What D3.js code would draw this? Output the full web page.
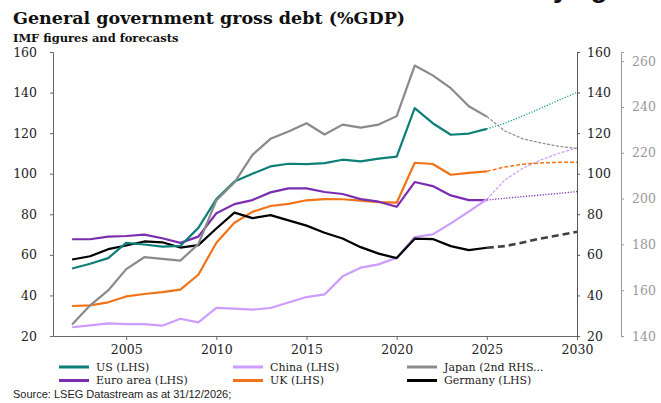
<!DOCTYPE html>
<html>
<head>
<meta charset="utf-8">
<script src="https://cdn.jsdelivr.net/npm/d3@7"></script>
<style>
  html, body { margin: 0; padding: 0; background: #fff; }
  svg { display: block; }
</style>
</head>
<body>
<svg id="chart" width="661" height="403"></svg>
<script>
// Outturn years and IMF forecast years
const years = d3.range(2002, 2026);
const forecastYears = d3.range(2025, 2031);

// General government gross debt, % of GDP (outturn 2002-2025)
const usDebt      = [53.3,55.6,58.4,65.9,65.1,64.1,64.4,73.3,87.5,96.2,100.0,103.6,104.9,104.7,105.2,106.9,106.1,107.4,108.4,132.3,124.9,119.2,119.8,122.1];
const chinaDebt   = [24.3,25.2,26.2,25.9,25.9,25.1,28.5,26.7,33.9,33.5,33.0,33.8,36.5,39.2,40.5,49.4,53.7,55.3,58.6,68.8,70.1,75.5,81.3,87.4];
const japanDebt   = [145.0,153.4,159.9,169.2,174.4,173.7,172.9,180.1,199.2,207.0,219.1,226.1,229.3,232.9,228.0,232.3,231.0,232.3,236.0,258.1,253.8,248.2,240.3,235.8];
const euroDebt    = [67.7,67.7,69.0,69.3,70.0,68.2,65.9,69.0,80.5,85.0,87.0,90.8,92.8,92.8,91.0,90.0,87.5,86.2,83.7,95.9,93.9,89.3,87.0,87.0];
const ukDebt      = [34.8,35.1,36.6,39.5,40.7,41.6,42.9,50.2,66.0,75.8,81.2,84.1,85.1,86.9,87.5,87.4,86.7,86.0,85.7,105.4,104.8,99.5,100.4,101.2];
const germanyDebt = [57.7,59.3,62.8,64.6,66.6,66.2,63.6,64.8,73.0,80.8,78.1,79.6,77.0,74.4,70.9,68.1,63.8,60.6,58.4,68.0,67.8,64.3,62.3,63.5];

// IMF forecasts 2025-2030
const usFcst      = [122.1,124.9,128.5,132.3,136.3,140.1];
const chinaFcst   = [87.4,96.9,102.7,106.8,110.1,112.6];
const japanFcst   = [235.8,229.5,226.1,224.3,222.8,221.9];
const euroFcst    = [87.0,87.9,88.7,89.5,90.3,91.2];
const ukFcst      = [101.2,103.3,104.7,105.3,105.6,105.6];
const germanyFcst = [63.5,64.3,66.1,68.1,69.7,71.4];

// Axis ticks
const lhsTicks = [20,40,60,80,100,120,140,160];
const japanTicks = [140,160,180,200,220,240,260];
const yearTicks = [2005,2010,2015,2020,2025,2030];

const seriesNames = ["US (LHS)","China (LHS)","Japan (2nd RHS...","Euro area (LHS)","UK (LHS)","Germany (LHS)"];

const svg = d3.select("#chart");
const serif = "'DejaVu Serif', 'Liberation Serif', serif";
const sans = "'Liberation Sans', Arial, sans-serif";

const plotLeft = 53, plotRight = 577, plotTop = 52, plotBottom = 336;

const x = d3.scaleLinear().domain([2000.94, 2030]).range([plotLeft, plotRight]);
const y = d3.scaleLinear().domain([20, 160]).range([plotBottom, plotTop]);
const yJ = d3.scaleLinear().domain([140, 264]).range([plotBottom, plotTop]);

// Descenders of the page heading that runs above the chart
const heading = svg.append("text")
  .attr("x", 553).attr("y", -3)
  .attr("font-family", sans).attr("font-weight", "bold").attr("font-size", 28)
  .attr("fill", "#111");
heading.append("tspan").text("y");
heading.append("tspan").attr("dx", 22).text("g");

svg.append("text")
  .attr("x", 13).attr("y", 24)
  .attr("font-family", serif).attr("font-weight", "bold").attr("font-size", 17.5)
  .attr("fill", "#111").text("General government gross debt (%GDP)");

svg.append("text")
  .attr("x", 13).attr("y", 42)
  .attr("font-family", serif).attr("font-weight", "bold").attr("font-size", 11.5)
  .attr("fill", "#111").text("IMF figures and forecasts");

// Axes
function styleAxis(g, lineColor, textColor) {
  g.selectAll("path.domain").attr("stroke", lineColor).attr("stroke-width", 1);
  g.selectAll(".tick line").attr("stroke", lineColor);
  g.selectAll("text").attr("font-family", serif).attr("font-size", 12.5).attr("fill", textColor);
}

const gLeft = svg.append("g").attr("transform", `translate(${plotLeft},0)`)
  .call(d3.axisLeft(y).tickValues(lhsTicks).tickSize(3).tickSizeOuter(3).tickPadding(13));
styleAxis(gLeft, "#666", "#222");

const gRight = svg.append("g").attr("transform", `translate(${plotRight},0)`)
  .call(d3.axisRight(y).tickValues(lhsTicks).tickSize(3).tickSizeOuter(3).tickPadding(7));
styleAxis(gRight, "#555", "#222");

const gJ = svg.append("g").attr("transform", `translate(621,0)`)
  .call(d3.axisRight(yJ).tickValues(japanTicks).tickSize(3).tickSizeOuter(3).tickPadding(8));
styleAxis(gJ, "#999", "#999");

const gX = svg.append("g").attr("transform", `translate(0,${plotBottom})`)
  .call(d3.axisBottom(x).tickValues(yearTicks).tickFormat(d3.format("d")).tickSize(4).tickSizeOuter(0).tickPadding(5));
styleAxis(gX, "#666", "#222");

// Lines
const lineL = d3.line().x(d => x(d[0])).y(d => y(d[1]));
const lineJ = d3.line().x(d => x(d[0])).y(d => yJ(d[1]));

const series = [
  { name: seriesNames[0], hist: usDebt,      fc: usFcst,      color: "#0b7f78", fcColor: "#1a9a92", scale: "L", dash: "1.2,1.6", fw: 1.3 },
  { name: seriesNames[1], hist: chinaDebt,   fc: chinaFcst,   color: "#cc9cff", fcColor: "#cc9cff", scale: "L", dash: "3,1.5", fw: 1.2 },
  { name: seriesNames[2], hist: japanDebt,   fc: japanFcst,   color: "#8a8a8a", fcColor: "#8a8a8a", scale: "J", dash: "3,1.5", fw: 1.2 },
  { name: seriesNames[3], hist: euroDebt,    fc: euroFcst,    color: "#7b2db0", fcColor: "#7b2db0", scale: "L", dash: "1.2,1.6", fw: 1.3 },
  { name: seriesNames[4], hist: ukDebt,      fc: ukFcst,      color: "#f07417", fcColor: "#f07417", scale: "L", dash: "4,2", fw: 1.5 },
  { name: seriesNames[5], hist: germanyDebt, fc: germanyFcst, color: "#000000", fcColor: "#404040", scale: "L", dash: "7,4", fw: 2.6 }
];

const plot = svg.append("g");
// forecasts first, then outturns on top
series.forEach(s => {
  const gen = s.scale === "J" ? lineJ : lineL;
  plot.append("path")
    .datum(forecastYears.map((yr, i) => [yr, s.fc[i]]))
    .attr("d", gen).attr("fill", "none")
    .attr("stroke", s.fcColor).attr("stroke-width", s.fw)
    .attr("stroke-dasharray", s.dash);
});
const drawOrder = [4, 3, 1, 5, 0, 2];
drawOrder.forEach(k => {
  const s = series[k];
  const gen = s.scale === "J" ? lineJ : lineL;
  plot.append("path")
    .datum(years.map((yr, i) => [yr, s.hist[i]]))
    .attr("d", gen).attr("fill", "none")
    .attr("stroke", s.color).attr("stroke-width", 2.2)
    .attr("stroke-linejoin", "round");
});

// Legend
const legendCols = [59, 233, 407];
const legendRows = [367, 380.5];
series.forEach((s, i) => {
  const cx = legendCols[i % 3], cy = legendRows[Math.floor(i / 3)];
  svg.append("line")
    .attr("x1", cx).attr("x2", cx + 30).attr("y1", cy).attr("y2", cy)
    .attr("stroke", s.color).attr("stroke-width", 3);
  svg.append("text")
    .attr("x", cx + 37).attr("y", cy + 3.8)
    .attr("font-family", serif).attr("font-size", 11).attr("fill", "#222")
    .text(s.name);
});

svg.append("text")
  .attr("x", 13).attr("y", 398)
  .attr("font-family", sans).attr("font-size", 11).attr("fill", "#222")
  .text("Source: LSEG Datastream as at 31/12/2026;");
</script>
</body>
</html>
